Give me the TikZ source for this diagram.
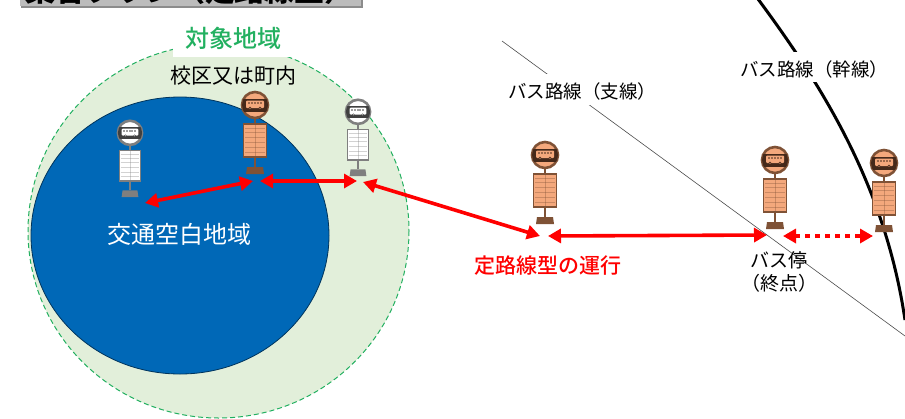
\documentclass[tikz,border=0pt]{standalone}
\usepackage{fontspec}
\setmainfont{Noto Sans CJK JP}
\newfontfamily\mediumjp{Noto Sans CJK JP Medium}
\usepackage{tikz}
\usetikzlibrary{arrows.meta}
\definecolor{AreaGreen}{HTML}{E2EFDA}
\definecolor{EdgeGreen}{HTML}{22B060}
\definecolor{GapBlue}{HTML}{0068B7}
\definecolor{StopOrange}{HTML}{F4A87C}
\definecolor{StopBrown}{HTML}{7F5236}
\definecolor{BandBrown}{HTML}{45291A}
\definecolor{StopGray}{HTML}{7F7F7F}
\definecolor{BandGray}{HTML}{404040}
\definecolor{TitleGray}{HTML}{BCBCBC}
\tikzset{
	routelabel/.style={inner sep=0pt, font=\fontsize{18.5pt}{22pt}\selectfont, align=center},
	whitebox/.style={fill=white, inner sep=0pt},
	runarrow/.style={red, line width=3.6pt, {Triangle[length=13pt,width=14pt]}-{Triangle[length=13pt,width=14pt]}},
	pics/busstop/.style n args={3}{code={
		% #1 line, #2 face, #3 band
		\draw[#1, line width=1.6pt] (0,-7) -- (0,-55);
		\fill[#1] (-9,0) -- (9,0) -- (8,-7) -- (-8,-7) -- cycle;
		\draw[#1, fill=#2, line width=1.6pt] (-11.5,-17) rectangle (11.5,-50);
		\foreach \yy in {-22,-27,-32,-37,-42,-46} {
			\draw[#1, opacity=0.35, line width=0.5pt] (-10,\yy) -- (10,\yy);
		}
		\draw[#1, opacity=0.35, line width=0.5pt] (0,-18) -- (0,-49);
		\draw[#1, fill=#2, line width=2.6pt] (0,-69) circle (13);
		\begin{scope}
			\clip (0,-69) circle (13);
			\fill[#3] (-14,-75.5) rectangle (14,-62.5);
		\end{scope}
		\fill[#2, rounded corners=1pt] (-9,-73.5) rectangle (9,-66);
		\foreach \xx in {-7.5,-4.5,-1.5,1.5,4.5} {
			\fill[#3!50!#2] (\xx,-72.5) rectangle ++(2.2,2.6);
		}
		\fill[#3] (-5,-65.8) circle (1.5) (5,-65.8) circle (1.5);
		\fill[#2] (-5,-65.8) circle (0.6) (5,-65.8) circle (0.6);
	}},
}
\begin{document}
\begin{tikzpicture}[x=1pt, y=-1pt]
	\useasboundingbox (0,0) rectangle (905,418);
	\clip (0,0) rectangle (905,418);
	% title strip, cut at the top
	\fill[black!45] (21,-6) rectangle (363,8);
	\fill[TitleGray] (20,-6) rectangle (361,6);
	\node[font=\bfseries\fontsize{30pt}{32pt}\selectfont, anchor=base] (title) at (190,1) {集合プラン（定路線型）};
	% areas
	\draw[EdgeGreen, fill=AreaGreen, dash pattern=on 5pt off 3pt, line width=1pt] (218.5,231) ellipse (190.5 and 187);
	\draw[black!50!GapBlue, fill=GapBlue, line width=0.8pt] (180,235.5) ellipse (149 and 138.5);
	\node[whitebox, minimum width=122pt, minimum height=36pt] (areabox) at (234,39) {};
	\node[font=\mediumjp\fontsize{24pt}{26pt}\selectfont, text=EdgeGreen] (area) at (233,38) {対象地域};
	\node[font=\fontsize{21pt}{24pt}\selectfont] (district) at (233,76) {校区又は町内};
	\node[font=\fontsize{24pt}{26pt}\selectfont, text=white] (gap) at (179,234) {交通空白地域};
	% routes
	\draw[black!70, line width=0.6pt] (502,41) -- (905,336);
	\draw[black, line width=3pt] (755,-5) .. controls (822,85) and (885,185) .. (905,320);
	\node[whitebox, minimum width=182pt, minimum height=31pt] (branchbox) at (582,89.5) {};
	\node[routelabel] (branch) at (582,91.5) {バス路線（支線）};
	\node[whitebox, minimum width=183pt, minimum height=30pt] (trunkbox) at (813.5,67) {};
	\node[routelabel] (trunk) at (814,69.5) {バス路線（幹線）};
	% stops
	\pic at (130,197) [scale=0.93] {busstop={StopGray}{white}{BandGray}};
	\pic at (358,176) [scale=0.93] {busstop={StopGray}{white}{BandGray}};
	\pic at (255,174) {busstop={StopBrown}{StopOrange}{BandBrown}};
	\pic at (545,224) {busstop={StopBrown}{StopOrange}{BandBrown}};
	\pic at (775,229) {busstop={StopBrown}{StopOrange}{BandBrown}};
	\pic at (884,232) {busstop={StopBrown}{StopOrange}{BandBrown}};
	% arrows
	\coordinate (a1) at (145,203);
	\coordinate (a2) at (253,181);
	\coordinate (b1) at (260,181);
	\coordinate (b2) at (357,181);
	\coordinate (c1) at (363,182);
	\coordinate (c2) at (540,236);
	\coordinate (d1) at (548,236);
	\coordinate (d2) at (767,235);
	\coordinate (e1) at (783,236);
	\coordinate (e2) at (873,236);
	\draw[runarrow] (a1) -- (a2);
	\draw[runarrow] (b1) -- (b2);
	\draw[runarrow] (c1) -- (c2);
	\draw[runarrow] (d1) -- (d2);
	\draw[runarrow, dash pattern=on 5pt off 5pt] (e1) -- (e2);
	\node[font=\mediumjp\fontsize{21pt}{24pt}\selectfont, text=red] (service) at (548,266) {定路線型の運行};
	\node[font=\fontsize{19pt}{23pt}\selectfont, align=center] (terminal) at (779,271.5) {バス停\\（終点）};
\end{tikzpicture}
\end{document}
